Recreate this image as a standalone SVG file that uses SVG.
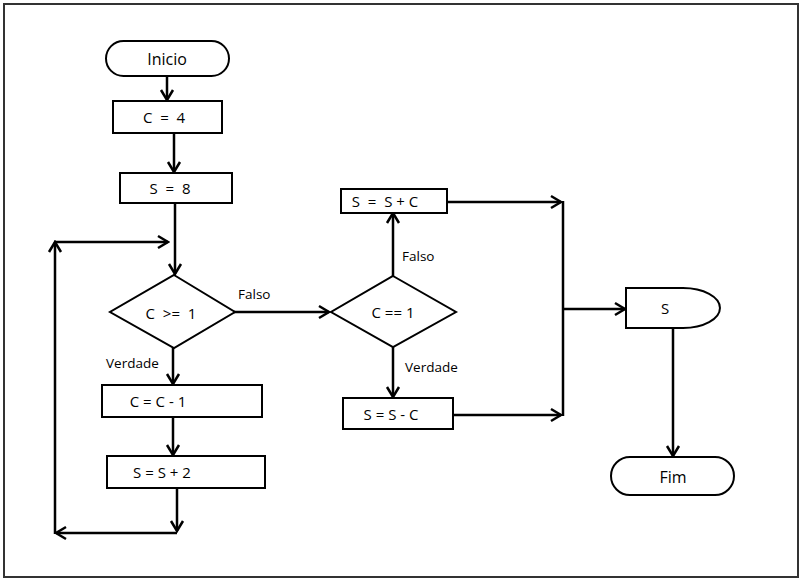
<svg xmlns="http://www.w3.org/2000/svg" width="802" height="587" viewBox="0 0 802 587">
<style>
.shape{fill:#fff;stroke:#000;stroke-width:2}
.t{font-family:"Open Sans","Liberation Sans",sans-serif;font-size:15px;fill:#000;text-anchor:middle;dominant-baseline:central;white-space:pre}
.big{font-size:16px}
.lbl{font-family:"Open Sans","Liberation Sans",sans-serif;font-size:13.5px;fill:#000}
.c{fill:none;stroke:#000;stroke-width:2.5}
</style>
<defs>
<marker id="arr" viewBox="-12 -8 14 16" refX="0" refY="0" markerWidth="14" markerHeight="16" markerUnits="userSpaceOnUse" orient="auto">
<path d="M-10,-6 L0,0 L-10,6" fill="none" stroke="#000" stroke-width="2.5"/>
</marker>
</defs>
<rect x="0" y="0" width="802" height="587" fill="#fff"/>
<rect x="4" y="4" width="794" height="573" fill="none" stroke="#333" stroke-width="2"/>
<g id="connectors">
<path class="c" d="M167,76 V100" marker-end="url(#arr)"/>
<path class="c" d="M174,133 V172" marker-end="url(#arr)"/>
<path class="c" d="M175,203 V274" marker-end="url(#arr)"/>
<path class="c" d="M173,348 V384" marker-end="url(#arr)"/>
<path class="c" d="M173,417 V455" marker-end="url(#arr)"/>
<path class="c" d="M177,488 V531" marker-end="url(#arr)"/>
<path class="c" d="M177,533 H56" marker-end="url(#arr)"/>
<path class="c" d="M55,534 V242" marker-end="url(#arr)"/>
<path class="c" d="M54,242 H168" marker-end="url(#arr)"/>
<path class="c" d="M234,312 H329" marker-end="url(#arr)"/>
<path class="c" d="M393,276 V213" marker-end="url(#arr)"/>
<path class="c" d="M393,347 V397" marker-end="url(#arr)"/>
<path class="c" d="M447,202 H561" marker-end="url(#arr)"/>
<path class="c" d="M453,415 H561" marker-end="url(#arr)"/>
<path class="c" d="M563,201 V416" stroke-width="3"/>
<path class="c" d="M563,309 H625" stroke-width="2" marker-end="url(#arr)"/>
<path class="c" d="M673,328 V456" stroke-width="2" marker-end="url(#arr)"/>
<text class="lbl" x="238" y="299">Falso</text>
<text class="lbl" x="106" y="368">Verdade</text>
<text class="lbl" x="402" y="261">Falso</text>
<text class="lbl" x="405" y="372">Verdade</text>
</g>
<g id="inicio">
<rect class="shape" x="106" y="41" width="123" height="35" rx="17.5"/>
<text class="t big" x="167" y="58.5">Inicio</text>
</g>
<g id="c4">
<rect class="shape" x="113" y="101" width="109" height="32"/>
<text class="t" x="164" y="117" xml:space="preserve">C  =  4</text>
</g>
<g id="s8">
<rect class="shape" x="120" y="173" width="112" height="30"/>
<text class="t" x="170" y="188" xml:space="preserve">S  =  8</text>
</g>
<g id="dec1">
<polygon class="shape" points="174,275 235,312 174,348 110,312"/>
<text class="t" x="171" y="313" xml:space="preserve">C  &gt;=  1</text>
</g>
<g id="cminus">
<rect class="shape" x="102" y="385" width="160" height="32"/>
<text class="t" x="158" y="401">C = C - 1</text>
</g>
<g id="splus2">
<rect class="shape" x="107" y="456" width="158" height="32"/>
<text class="t" x="162" y="472">S = S + 2</text>
</g>
<g id="dec2">
<polygon class="shape" points="393,276 456,312 393,347 331,312"/>
<text class="t" x="393" y="312">C == 1</text>
</g>
<g id="splusc">
<rect class="shape" x="341" y="189" width="106" height="24"/>
<text class="t" x="385" y="201" xml:space="preserve">S  =  S + C</text>
</g>
<g id="sminusc">
<rect class="shape" x="343" y="398" width="110" height="31"/>
<text class="t" x="391" y="414">S = S - C</text>
</g>
<g id="display">
<path class="shape" d="M626,288 H683 A37,20 0 0 1 683,328 H626 Z"/>
<text class="t" x="665" y="308">S</text>
</g>
<g id="fim">
<rect class="shape" x="611" y="457" width="123" height="38" rx="19"/>
<text class="t big" x="673" y="477">Fim</text>
</g>
</svg>
